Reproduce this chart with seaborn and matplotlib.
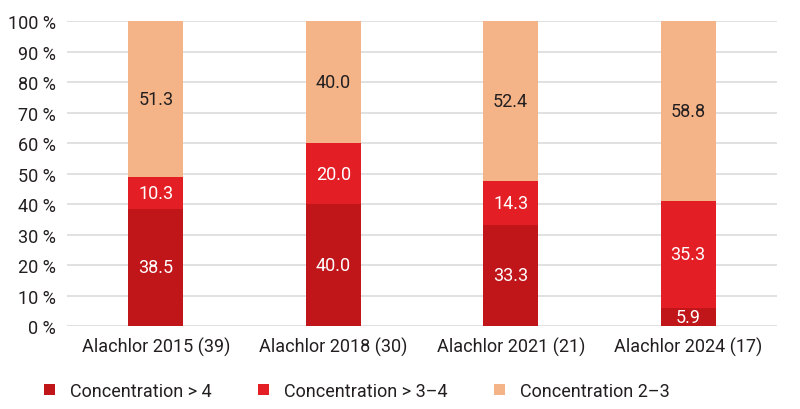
import matplotlib
matplotlib.use('Agg')
import matplotlib.pyplot as plt
import seaborn as sns
import numpy as np
import pandas as pd

# Data
categories = ['Alachlor 2015 (39)', 'Alachlor 2018 (30)', 'Alachlor 2021 (21)', 'Alachlor 2024 (17)']
conc_over_4 = [38.5, 40.0, 33.3, 5.9]
conc_3_4 = [10.3, 20.0, 14.3, 35.3]
conc_2_3 = [51.3, 40.0, 52.4, 58.8]
series_names = ['Concentration > 4', 'Concentration > 3\u20134', 'Concentration 2\u20133']
colors = ['#C0161A', '#E31E24', '#F4B488']
text_colors = ['white', 'white', '#231F20']

sns.set_style('white')
plt.rcParams['font.family'] = ['Roboto', 'DejaVu Sans']

fig, ax = plt.subplots(figsize=(8, 4.1), dpi=100)
fig.subplots_adjust(left=0.084, right=0.971, top=0.946, bottom=0.202)

series = [conc_over_4, conc_3_4, conc_2_3]
bottom = np.zeros(len(categories))
for name, vals, col, tcol in zip(series_names, series, colors, text_colors):
    df = pd.DataFrame({'cat': categories, 'val': vals})
    sns.barplot(data=df, x='cat', y='val', color=col, width=0.31, linewidth=0,
                bottom=bottom, ax=ax, label=name, saturation=1, zorder=3)
    for i, v in enumerate(vals):
        ax.text(i, bottom[i] + v / 2, f'{v:.1f}', ha='center', va='center',
                color=tcol, fontsize=13, zorder=4)
    bottom = bottom + np.array(vals)

ax.set_ylim(0, 100)
ax.set_xlim(-0.5, 3.5)
ax.set_yticks(range(0, 101, 10))
ax.set_yticklabels([f'{t} %' for t in range(0, 101, 10)], fontsize=13, color='#231F20')
ax.tick_params(axis='x', labelsize=13, colors='#231F20', length=0, pad=8)
ax.tick_params(axis='y', length=0, pad=8)
ax.set_xlabel('')
ax.set_ylabel('')
ax.yaxis.grid(True, color='#DCDCDC', linewidth=1.2, zorder=0)
for s in ax.spines.values():
    s.set_visible(False)

leg = ax.legend(loc='upper left', bbox_to_anchor=(-0.055, -0.13), ncol=3, frameon=False,
                fontsize=13, handlelength=0.6, handleheight=0.6, columnspacing=2.6,
                handletextpad=0.8)
for t in leg.get_texts():
    t.set_color('#231F20')

fig.savefig('out.png', dpi=100)
